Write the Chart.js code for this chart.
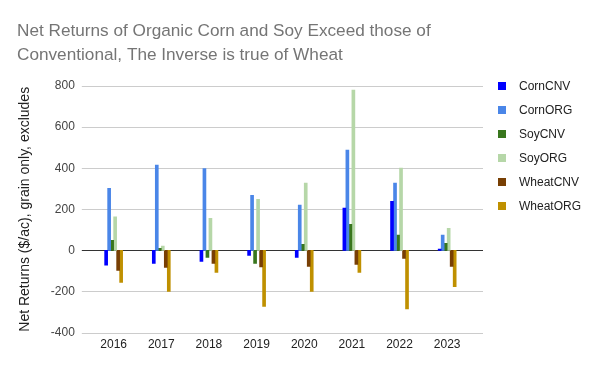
<!DOCTYPE html>
<html>
<head>
<meta charset="utf-8">
<script src="https://cdn.jsdelivr.net/npm/chart.js@4"></script>
<style>
  body { margin: 0; background: #fff; }
  #wrap { width: 600px; height: 371px; }
</style>
</head>
<body>
<div id="wrap"><canvas id="myChart" width="600" height="371"></canvas></div>
<script>
// Years on the x axis
const years = ["2016", "2017", "2018", "2019", "2020", "2021", "2022", "2023"];

// Net returns ($/ac)
const cornCNV = [-72, -63, -54, -24, -34, 206, 239, 6];
const cornORG = [302, 415, 398, 268, 220, 488, 327, 75];
const soyCNV = [49, 10, -34, -63, 29, 127, 75, 34];
const soyORG = [163, 21, 156, 249, 327, 780, 400, 107];
const wheatCNV = [-98, -83, -63, -80, -78, -68, -39, -78];
const wheatORG = [-156, -200, -107, -273, -200, -107, -285, -176];

const seriesNames = ["CornCNV", "CornORG", "SoyCNV", "SoyORG", "WheatCNV", "WheatORG"];
const seriesColors = ["#0000ff", "#4a86e8", "#38761d", "#b6d7a8", "#783f04", "#bf9000"];
const seriesValues = [cornCNV, cornORG, soyCNV, soyORG, wheatCNV, wheatORG];

const font = "'Liberation Sans', Arial, sans-serif";

// Gridlines run a little past the plot area on both sides
const wideGrid = {
  id: "wideGrid",
  beforeDatasetsDraw(chart) {
    const c = chart.ctx;
    const y = chart.scales.y;
    const area = chart.chartArea;
    c.save();
    c.lineWidth = 1;
    y.ticks.forEach((t) => {
      const py = Math.round(y.getPixelForValue(t.value)) + 0.5;
      c.strokeStyle = t.value === 0 ? "#333" : "#cccccc";
      c.beginPath();
      c.moveTo(area.left - 8, py);
      c.lineTo(area.right + 12, py);
      c.stroke();
    });
    c.restore();
  },
};

// Legend on the right, drawn from the datasets
const sideLegend = {
  id: "sideLegend",
  afterDraw(chart) {
    const c = chart.ctx;
    c.save();
    c.font = "12px " + font;
    c.textBaseline = "middle";
    chart.data.datasets.forEach((ds, i) => {
      const y = 86 + i * 24;
      c.fillStyle = ds.backgroundColor;
      c.fillRect(498, y - 4, 8, 8);
      c.fillStyle = "#222";
      c.fillText(ds.label, 519, y + 1);
    });
    c.restore();
  },
};

const ctx = document.getElementById("myChart").getContext("2d");
const chart = new Chart(ctx, {
  type: "bar",
  data: {
    labels: years,
    datasets: seriesNames.map((name, i) => ({
      label: name,
      data: seriesValues[i],
      backgroundColor: seriesColors[i],
      barThickness: 3,
      categoryPercentage: 0.65,
      barPercentage: 1,
    })),
  },
  options: {
    responsive: false,
    animation: false,
    layout: { padding: { left: 17, right: 129, top: 0, bottom: 14 } },
    plugins: {
      legend: { display: false },
      tooltip: { enabled: false },
      title: {
        display: true,
        text: ["Net Returns of Organic Corn and Soy Exceed those of", "Conventional, The Inverse is true of Wheat"],
        align: "start",
        color: "#757575",
        font: { family: font, size: 17.2, weight: "normal", lineHeight: 1.395 },
        padding: { top: 19, bottom: 19 },
      },
    },
    scales: {
      x: {
        grid: { display: false, drawTicks: false },
        border: { display: false },
        ticks: { color: "#222", font: { family: font, size: 12 }, padding: 5 },
      },
      y: {
        min: -400,
        max: 800,
        ticks: {
          stepSize: 200,
          color: "#444",
          padding: 7,
          font: { family: font, size: 12 },
        },
        grid: { display: false, drawTicks: true, tickLength: 8 },
        border: { display: false },
        title: {
          display: true,
          text: "Net Returns ($/ac), grain only, excludes",
          color: "#222",
          font: { family: font, size: 14 },
          padding: { top: 0, bottom: 10 },
        },
      },
    },
  },
  plugins: [wideGrid, sideLegend],
});
</script>
</body>
</html>
